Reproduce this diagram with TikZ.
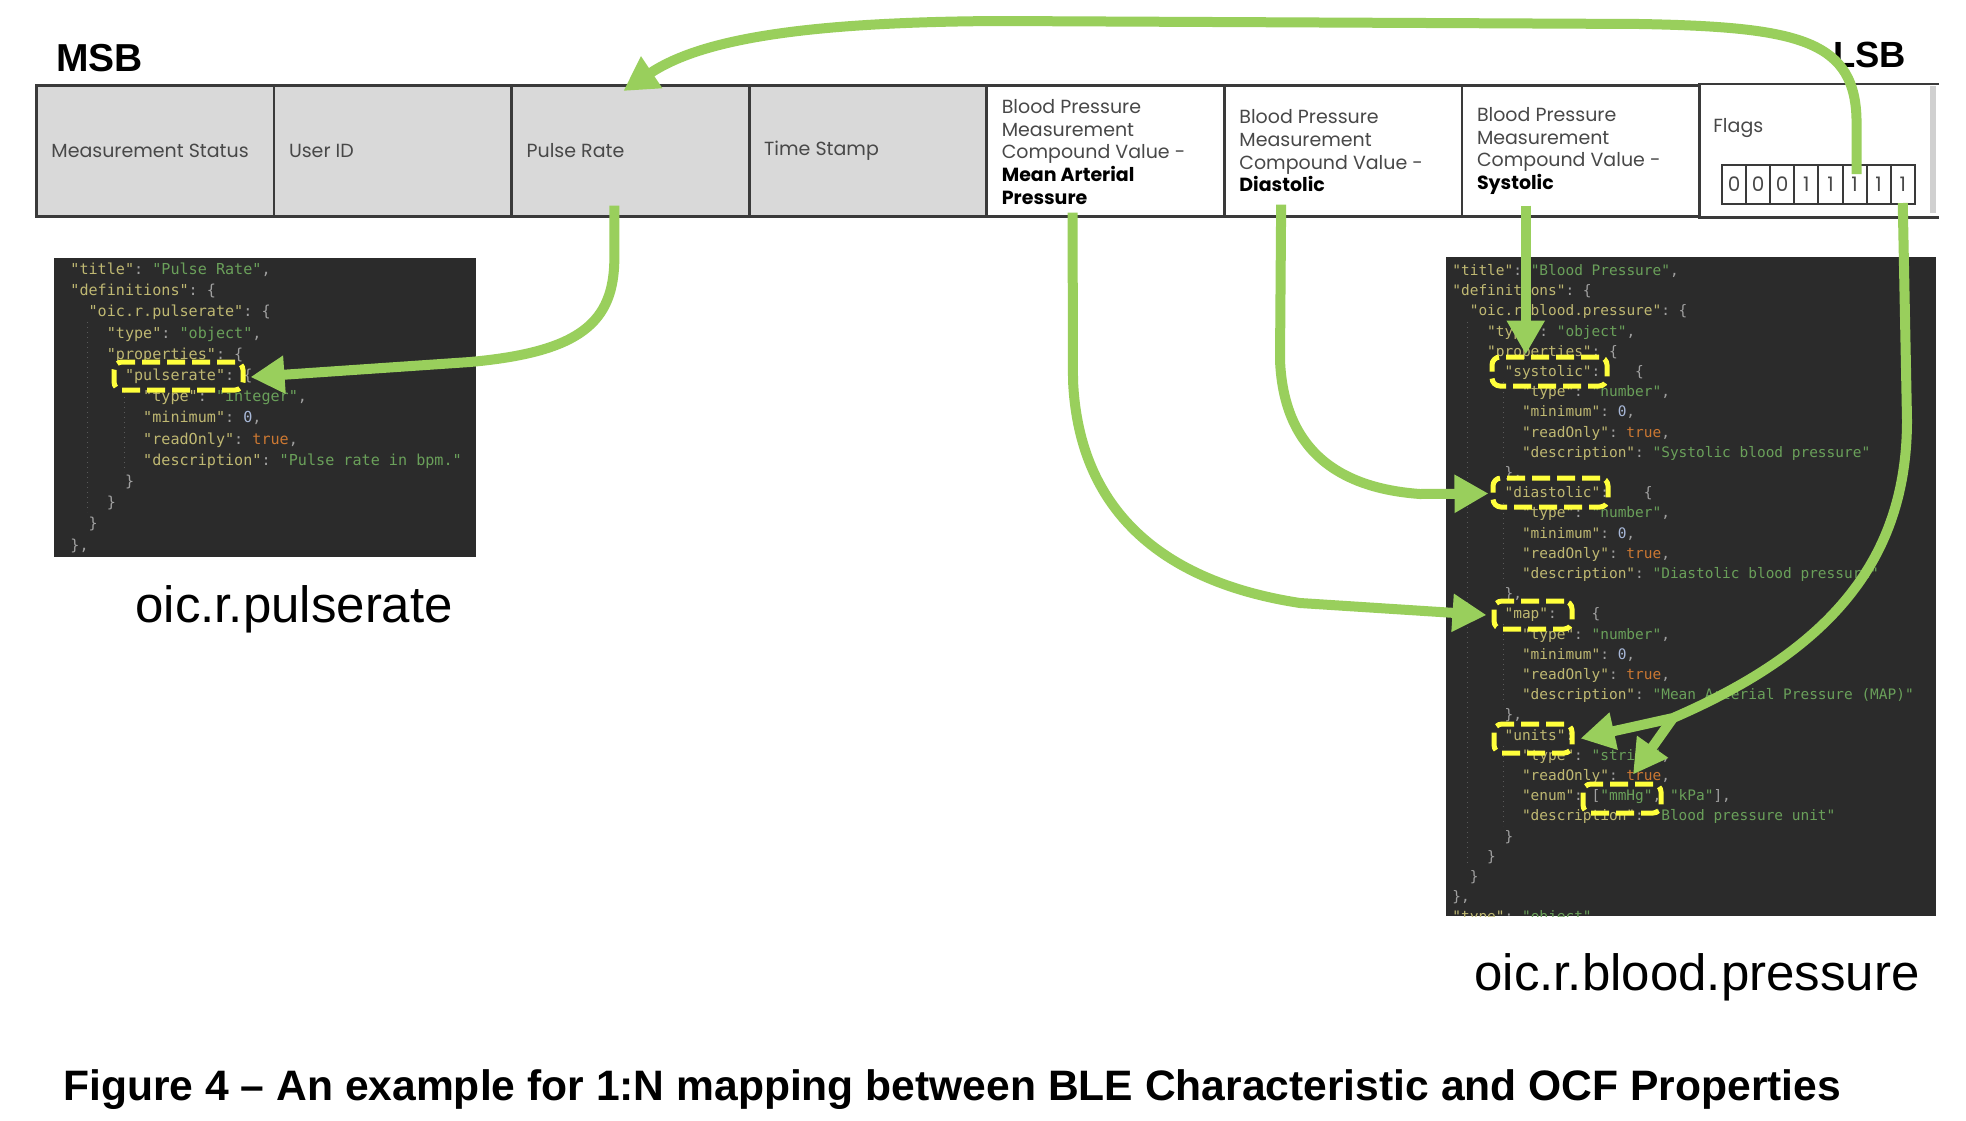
\documentclass[tikz,border=0pt]{standalone}
\usepackage{fontspec}
\setmainfont{Liberation Sans}
\setmonofont{DejaVu Sans Mono}
\newfontfamily\gothic{Poppins}
\usetikzlibrary{arrows.meta,calc}
\definecolor{cbg}{HTML}{2B2B2B}
\definecolor{ckey}{HTML}{BFB872}
\definecolor{cstr}{HTML}{6AA05A}
\definecolor{cnum}{HTML}{A8B8D8}
\definecolor{cbool}{HTML}{CC7832}
\definecolor{cpun}{HTML}{A0A0A0}
\definecolor{cyel}{HTML}{FFFF3C}
\definecolor{cgreen}{HTML}{99CF5C}
\definecolor{cgrayfill}{HTML}{D9D9D9}
\definecolor{cborder}{HTML}{3A3A3A}
\definecolor{ctxt}{HTML}{484848}
\definecolor{cguide}{HTML}{5A5A5A}
\definecolor{cstrip}{HTML}{D0D0D0}
\newcommand\jk[1]{\textcolor{ckey}{"#1"}}
\newcommand\js[1]{\textcolor{cstr}{"#1"}}
\newcommand\jn[1]{\textcolor{cnum}{#1}}
\newcommand\jb[1]{\textcolor{cbool}{#1}}
\newcommand\jlb{\{}
\newcommand\jrb{\}}
\newcommand\jgap{\hphantom{0000}}
\newcommand\bk[1]{\textcolor{black}{\bfseries #1}}
\begin{document}
\begin{tikzpicture}[x=0.5pt,y=-0.5pt,
  cell/.style={draw=cborder, line width=1.35pt, minimum width=118.8pt, minimum height=65.5pt, inner sep=0, anchor=north west},
  grayc/.style={cell, fill=cgrayfill},
  ctext/.style={anchor=west, inner sep=0, align=left, text=ctxt, font=\gothic\fontsize{9.5}{11.35}\selectfont},
  ctextb/.style={ctext, font=\gothic\fontsize{9.5}{11.35}\selectfont},
  bit/.style={draw=cborder, line width=1pt, minimum width=12.05pt, minimum height=19.5pt, inner sep=0, text=ctxt, font=\gothic\fontsize{10}{12}\selectfont},
  panel/.style={fill=cbg, inner sep=0, anchor=north west},
  cl/.style={anchor=base west, inner sep=0, text=cpun, font=\ttfamily\frenchspacing\fontsize{7.56}{8}\selectfont},
  cr/.style={anchor=base west, inner sep=0, text=cpun, font=\ttfamily\frenchspacing\fontsize{7.23}{8}\selectfont},
  guide/.style={draw=cguide, line width=0.5pt, dotted},
  ybox/.style={draw=cyel, line width=2.5pt, dash pattern=on 9pt off 3.5pt, rounded corners=4pt, inner sep=0},
  garrow/.style={draw=cgreen, line width=5pt, -{Triangle[length=17pt,width=18pt]}},
  lbl/.style={anchor=base west, inner sep=0}
]
\useasboundingbox (0,0) rectangle (1966,1120);
\fill[white] (0,0) rectangle (1966,1120);

% labels
\node[lbl, font=\bfseries\fontsize{19.5}{20}\selectfont] (msb) at (56,71) {MSB};
\node[lbl, font=\bfseries\fontsize{18.2}{19}\selectfont] (lsb) at (1833,67) {LSB};

% table
\node[grayc] (c1) at (35,84) {};
\node[grayc] (c2) at (272.6,84) {};
\node[grayc] (c3) at (510.2,84) {};
\node[grayc] (c4) at (747.8,84) {};
\node[cell] (c5) at (985.4,84) {};
\node[cell] (c6) at (1223,84) {};
\node[cell] (c7) at (1460.6,84) {};
\node[cell, draw=none, minimum width=118.9pt] (c8) at (1698.2,84) {};
\draw[draw=cborder, line width=1.35pt] (c8.north west) -- (c8.north east) (c8.south west) -- (c8.south east);
\fill[cstrip] (1930,86) rectangle (1936,213);

\node[ctext] (t1) at ($(c1.west)+(16,0)$) {Measurement Status};
\node[ctext] (t2) at ($(c2.west)+(16,0)$) {User ID};
\node[ctext] (t3) at ($(c3.west)+(16,0)$) {Pulse Rate};
\node[ctext] (t4) at ($(c4.west)+(16,0)$) {Time Stamp};
\node[ctextb] (t5) at ($(c5.west)+(16,1)$) {Blood Pressure\\Measurement\\Compound Value -\\\bk{Mean Arterial}\\\bk{Pressure}};
\node[ctextb] (t6) at ($(c6.west)+(16,0)$) {Blood Pressure\\Measurement\\Compound Value -\\\bk{Diastolic}};
\node[ctextb] (t7) at ($(c7.west)+(16,0)$) {Blood Pressure\\Measurement\\Compound Value -\\\bk{Systolic}};
\node[ctext] (t8) at (1713,128) {Flags};
\foreach \i/\v in {1/0,2/0,3/0,4/1,5/1,6/1,7/1,8/1}
  \node[bit] (b\i) at ({1722+24.1*(\i-0.5)},184.5) {\v};

% left code panel
\node[panel, minimum width=211pt, minimum height=149.5pt] (pl) at (54,258) {};
\draw[guide] (87,322) -- (87,512);
\draw[guide] (124,392) -- (124,472);
\node[cl] (l1) at (70,274.5) {\jk{title}: \js{Pulse Rate},};
\node[cl] (l2) at (70,295.7) {\jk{definitions}: \jlb};
\node[cl] (l3) at (88.2,316.9) {\jk{oic.r.pulserate}: \jlb};
\node[cl] (l4) at (106.4,338.1) {\jk{type}: \js{object},};
\node[cl] (l5) at (106.4,359.3) {\jk{properties}: \jlb};
\node[cl] (l6) at (124.6,380.5) {\jk{pulserate}: \jlb};
\node[cl] (l7) at (142.8,401.7) {\jk{type}: \js{integer},};
\node[cl] (l8) at (142.8,422.9) {\jk{minimum}: \jn{0},};
\node[cl] (l9) at (142.8,444.1) {\jk{readOnly}: \jb{true},};
\node[cl] (l10) at (142.8,465.3) {\jk{description}: \js{Pulse rate in bpm.}};
\node[cl] (l11) at (124.6,486.5) {\jrb};
\node[cl] (l12) at (106.4,507.7) {\jrb};
\node[cl] (l13) at (88.2,528.9) {\jrb};
\node[cl] (l14) at (70,550.1) {\jrb,};

% right code panel
\node[panel, minimum width=245pt, minimum height=329.5pt] (pr0) at (1446,257) {};
\begin{scope}
\clip (1446,257) rectangle (1936,916);
\draw[guide] (1467,322) -- (1467,866);
\draw[guide] (1503,382) -- (1503,462);
\draw[guide] (1503,503) -- (1503,583);
\draw[guide] (1503,624) -- (1503,704);
\draw[guide] (1503,746) -- (1503,826);
\node[cr] (r1) at (1452,275.5) {\jk{title}: \js{Blood Pressure},};
\node[cr] (r2) at (1452,295.7) {\jk{definitions}: \jlb};
\node[cr] (r3) at (1469.4,315.9) {\jk{oic.r.blood.pressure}: \jlb};
\node[cr] (r4) at (1486.8,336.1) {\jk{type}: \js{object},};
\node[cr] (r5) at (1486.8,356.3) {\jk{properties}: \jlb};
\node[cr] (r6) at (1504.2,376.5) {\jk{systolic}:\jgap\jlb};
\node[cr] (r7) at (1521.6,396.7) {\jk{type}: \js{number},};
\node[cr] (r8) at (1521.6,416.9) {\jk{minimum}: \jn{0},};
\node[cr] (r9) at (1521.6,437.1) {\jk{readOnly}: \jb{true},};
\node[cr] (r10) at (1521.6,457.3) {\jk{description}: \js{Systolic blood pressure}};
\node[cr] (r11) at (1504.2,477.5) {\jrb,};
\node[cr] (r12) at (1504.2,497.7) {\jk{diastolic}:\jgap\jlb};
\node[cr] (r13) at (1521.6,517.9) {\jk{type}: \js{number},};
\node[cr] (r14) at (1521.6,538.1) {\jk{minimum}: \jn{0},};
\node[cr] (r15) at (1521.6,558.3) {\jk{readOnly}: \jb{true},};
\node[cr] (r16) at (1521.6,578.5) {\jk{description}: \js{Diastolic blood pressure}};
\node[cr] (r17) at (1504.2,598.7) {\jrb,};
\node[cr] (r18) at (1504.2,618.9) {\jk{map}:\jgap\jlb};
\node[cr] (r19) at (1521.6,639.1) {\jk{type}: \js{number},};
\node[cr] (r20) at (1521.6,659.3) {\jk{minimum}: \jn{0},};
\node[cr] (r21) at (1521.6,679.5) {\jk{readOnly}: \jb{true},};
\node[cr] (r22) at (1521.6,699.7) {\jk{description}: \js{Mean Arterial Pressure (MAP)}};
\node[cr] (r23) at (1504.2,719.9) {\jrb,};
\node[cr] (r24) at (1504.2,740.1) {\jk{units}:\jgap\jlb};
\node[cr] (r25) at (1521.6,760.3) {\jk{type}: \js{string},};
\node[cr] (r26) at (1521.6,780.5) {\jk{readOnly}: \jb{true},};
\node[cr] (r27) at (1521.6,800.7) {\jk{enum}: [\js{mmHg}, \js{kPa}],};
\node[cr] (r28) at (1521.6,820.9) {\jk{description}: \js{Blood pressure unit}};
\node[cr] (r29) at (1504.2,841.1) {\jrb};
\node[cr] (r30) at (1486.8,861.3) {\jrb};
\node[cr] (r31) at (1469.4,881.5) {\jrb};
\node[cr] (r32) at (1452,901.7) {\jrb,};
\node[cr] (r33) at (1452,921.9) {\jk{type}: \js{object},};
\end{scope}

% highlight boxes
\node[ybox, minimum width=64.5pt, minimum height=14pt] (pr) at (178.5,376) {};
\node[ybox, minimum width=57.5pt, minimum height=14.5pt] (sys) at (1549.5,371.5) {};
\node[ybox, minimum width=57.5pt, minimum height=14.5pt] (dia) at (1550.5,492.5) {};
\node[ybox, minimum width=39pt, minimum height=14pt] (map) at (1533,615) {};
\node[ybox, minimum width=39pt, minimum height=14.5pt] (units) at (1533,738.5) {};
\node[ybox, minimum width=39pt, minimum height=14.5pt] (mmhg) at (1622,798.5) {};

% captions
\node[lbl, font=\fontsize{25.5}{28}\selectfont] (capl) at (135,622) {oic.r.pulserate};
\node[lbl, font=\fontsize{25.5}{28}\selectfont] (capr) at (1474,990) {oic.r.blood.pressure};
\node[lbl, font=\bfseries\fontsize{21.3}{23}\selectfont] (fig) at (63,1100) {Figure 4 – An example for 1:N mapping between BLE Characteristic and OCF Properties};

% connectors
\coordinate (aS) at ($(b6.north)+(2,10)$);
\coordinate (bS) at ($(c3.south)+(-16,-12)$);
\coordinate (cS) at ($(c5.south)+(-33,-5)$);
\coordinate (dS) at ($(c6.south)+(-62,-13)$);
\coordinate (eS) at ($(c7.south)+(-55,-12)$);
\coordinate (fS) at ($(b8.south)+(0,-2)$);
\coordinate (br) at (1673,718);

\draw[garrow] (aS) -- ++(0,-50) .. controls (1857,40) and (1800,27) .. (1640,24) -- (1000,21) .. controls (800,22) and (700,40) .. ($(c3.north)+(-7,7)$);
\draw[garrow] (bS) -- ++(0,52) .. controls +(0,65) and (580,352) .. (470,362) -- ($(pr.east)+(5,1)$);
\draw[garrow] (cS) -- (1073,380) .. controls (1078,500) and (1150,580) .. (1300,603) -- ($(map.west)+(-5,0)$);
\draw[garrow] (dS) -- (1280,360) .. controls (1283,435) and (1322,487) .. (1420,494) -- ($(dia.west)+(-2,1)$);
\draw[garrow] (eS) -- (eS |- sys.north);
\draw[garrow] (fS) -- (1907,420) .. controls (1907,560) and (1830,650) .. (br) -- ($(units.east)+(6,0)$);
\draw[garrow] (br) -- ($(mmhg.north)+(11,-7)$);
\end{tikzpicture}
\end{document}
